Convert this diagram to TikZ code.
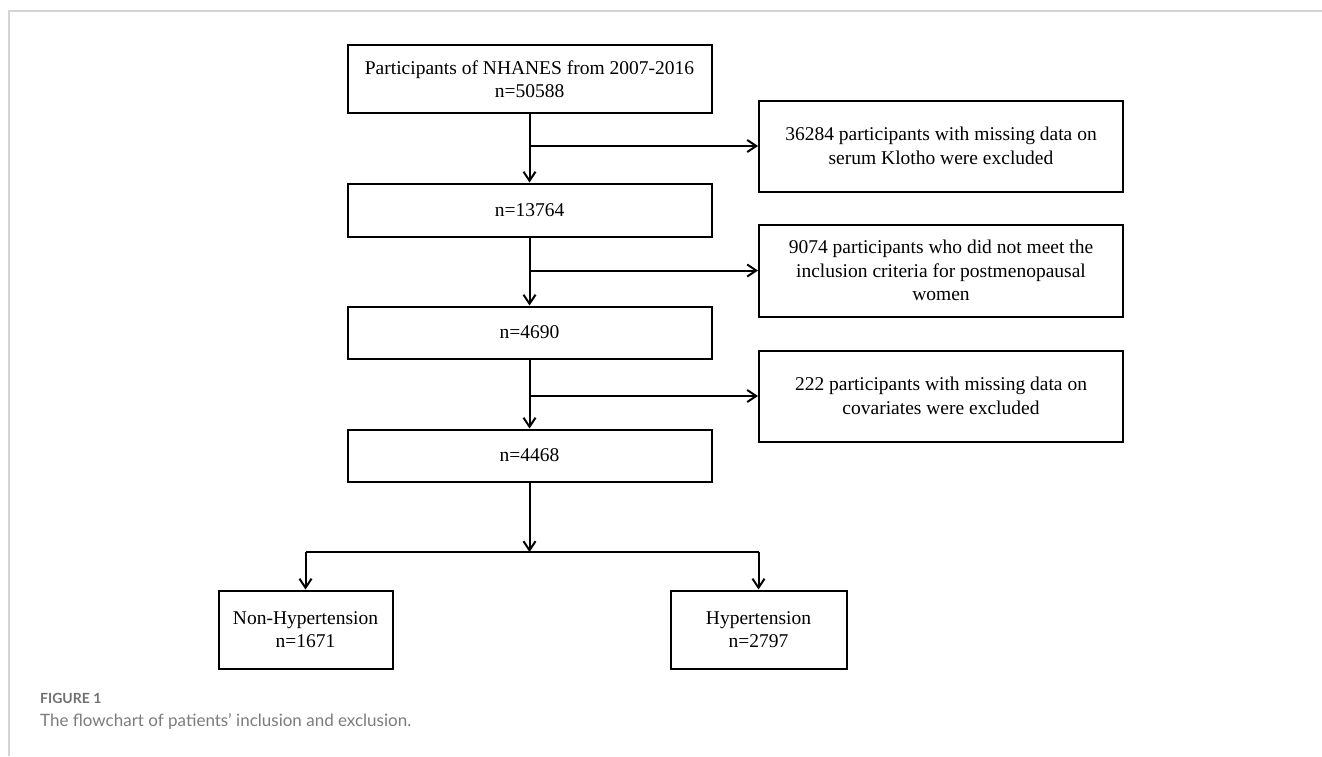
\documentclass[tikz,border=0pt]{standalone}
\usepackage{fontspec}
\setmainfont{Liberation Serif}
\newfontfamily\capfont{Lato}
\usetikzlibrary{arrows.meta}
\definecolor{framegray}{HTML}{D4D4D4}
\definecolor{capgray}{HTML}{707070}
\definecolor{captext}{HTML}{7C7C7C}
\begin{document}
\begin{tikzpicture}[x=1pt,y=-1pt,
  flowbox/.style={draw=black,line width=2pt,fill=white,inner sep=0pt,align=center,
    font=\fontsize{19.5}{23.5}\selectfont,minimum width=364pt},
  sidebox/.style={flowbox},
  arr/.style={line width=2pt,-{Straight Barb[length=9pt,width=12pt,line width=2pt]}},
  plain/.style={line width=2pt}]
\useasboundingbox (0,0) rectangle (1322,756);
\fill[white] (0,0) rectangle (1322,756);
% card frame
\draw[framegray,line width=1.2pt] (9,756) -- (9,11) -- (1322,11);
% main column
\node[flowbox,minimum height=68pt] (p0) at (529.5,79) {Participants of NHANES from 2007-2016\\n=50588};
\node[flowbox,minimum height=53pt] (p1) at (529.5,210) {n=13764};
\node[flowbox,minimum height=52pt] (p2) at (529.5,332.5) {n=4690};
\node[flowbox,minimum height=52pt] (p3) at (529.5,455.5) {n=4468};
% exclusion boxes
\node[sidebox,minimum height=91pt] (e1) at (941,146) {36284 participants with missing data on\\serum Klotho were excluded};
\node[sidebox,minimum height=92pt] (e2) at (941,270.5) {9074 participants who did not meet the\\inclusion criteria for postmenopausal\\women};
\node[sidebox,minimum height=91pt] (e3) at (941,396) {222 participants with missing data on\\covariates were excluded};
% outcome boxes
\node[flowbox,minimum width=174pt,minimum height=78pt] (nh) at (305.5,629.5) {Non-Hypertension\\n=1671};
\node[flowbox,minimum width=176pt,minimum height=78pt] (hy) at (758.5,629.5) {Hypertension\\n=2797};
% connectors
\draw[arr] (p0.south) -- (p1.north);
\draw[arr] (p0.south |- e1.west) -- (e1.west);
\draw[arr] (p1.south) -- (p2.north);
\draw[arr] (p1.south |- e2.west) -- (e2.west);
\draw[arr] (p2.south) -- (p3.north);
\draw[arr] (p2.south |- e3.west) -- (e3.west);
\coordinate (split) at (529.5,552);
\draw[arr] (p3.south) -- (split);
\draw[plain] (nh.north |- split) -- (hy.north |- split);
\draw[arr] (nh.north |- split) -- (nh.north);
\draw[arr] (hy.north |- split) -- (hy.north);
% caption
\node[anchor=base west,inner sep=0pt,text=capgray,font=\capfont\bfseries\fontsize{14}{16}\selectfont] (fig) at (40,703) {FIGURE 1};
\node[anchor=base west,inner sep=0pt,text=captext,font=\capfont\fontsize{17}{20}\selectfont] (cap) at (40,726) {The flowchart of patients’ inclusion and exclusion.};
\end{tikzpicture}
\end{document}
